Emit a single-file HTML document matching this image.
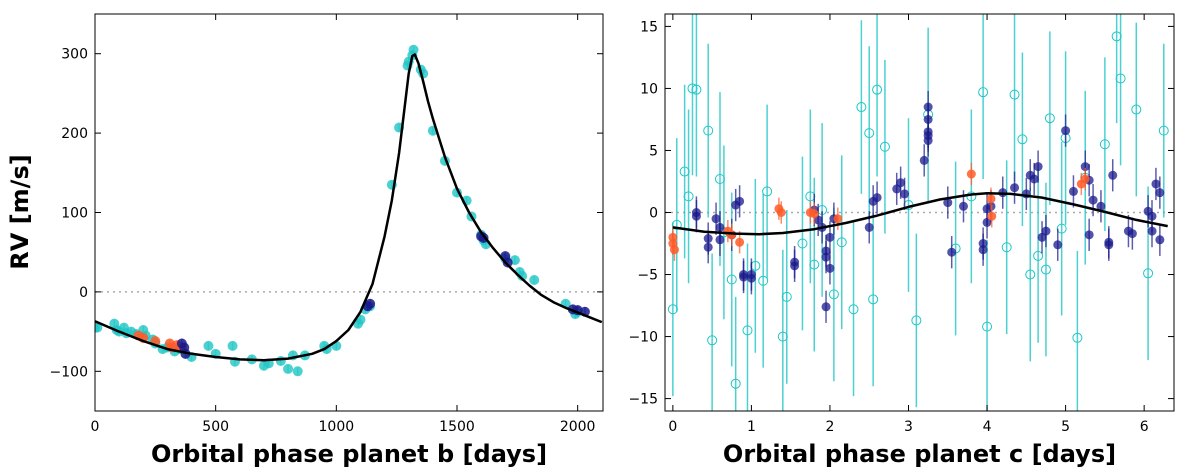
<!DOCTYPE html>
<html><head><meta charset="utf-8"><style>
html,body{margin:0;padding:0;background:#fff;}
svg{display:block;font-family:"DejaVu Sans","Liberation Sans",sans-serif;}
</style></head><body>
<svg id="chart" width="1182" height="474" viewBox="0 0 1182 474" xmlns="http://www.w3.org/2000/svg"></svg>
<script>
// ---- Left panel (planet b) data ----
const bCyanX=[0,10,80,90,100,120,130,150,170,200,210,240,250,280,300,330,350,400,470,500,570,580,650,700,720,770,800,820,840,870,950,960,1000,1090,1100,1120,1140,1230,1260,1295,1300,1315,1320,1350,1360,1400,1450,1500,1540,1560,1600,1610,1620,1700,1740,1760,1770,1820,1950,1990,2000];
const bCyanY=[-45,-45,-40,-48,-50,-45,-52,-50,-53,-48,-55,-60,-65,-72,-70,-75,-72,-82,-68,-78,-68,-88,-85,-93,-90,-87,-97,-80,-100,-80,-68,-72,-68,-40,-35,-22,-18,135,207,285,290,298,305,280,275,203,165,125,115,95,72,65,60,42,40,25,20,15,-15,-28,-25];
const bOrX=[180,200,250,310,320,340,360];
const bOrY=[-55,-58,-62,-65,-70,-67,-70];
const bNavX=[360,370,375,1130,1140,1600,1610,1700,1710,1980,2000,2030];
const bNavY=[-65,-70,-78,-18,-15,70,68,45,37,-22,-23,-25];
const bModelX=[0,100,200,300,400,500,600,700,800,900,950,1000,1050,1100,1150,1200,1230,1260,1280,1300,1315,1325,1340,1360,1380,1400,1450,1500,1550,1600,1650,1700,1750,1800,1850,1900,1950,2000,2050,2100];
const bModelY=[-37,-50,-62,-72,-78,-82,-85,-86,-84,-78,-72,-62,-48,-25,10,70,115,175,225,275,297,299,288,265,240,218,170,130,100,75,55,37,22,8,-4,-13,-20,-26,-32,-38];
const bXTicks=[0,500,1000,1500,2000];
const bYTicks=[-100,0,100,200,300];
// ---- Right panel (planet c) data ----
const cNavX=[0.3,0.3,0.45,0.45,0.55,0.6,0.6,0.75,0.8,0.85,0.9,0.9,1.0,1.0,1.55,1.55,1.8,1.85,1.9,1.95,1.95,1.95,2.0,2.0,2.05,2.5,2.55,2.6,2.85,2.9,2.95,3.2,3.25,3.25,3.25,3.25,3.25,3.5,3.55,3.7,3.95,3.95,4.0,4.0,4.05,4.2,4.35,4.5,4.55,4.6,4.65,4.7,4.75,4.9,5.0,5.1,5.25,5.3,5.3,5.35,5.45,5.55,5.55,5.6,5.8,5.85,6.05,6.1,6.1,6.15,6.2,6.2];
const cNavY=[-0.3,0,-2.1,-2.8,-0.5,-2.2,-1.2,-1.8,0.6,0.9,-5.0,-5.2,-5.3,-5.0,-4.0,-4.3,0.2,-0.6,-1.2,-3.1,-3.6,-7.6,-4.5,-2.0,-0.5,-1.2,0.9,1.2,1.9,2.4,1.5,4.2,6.5,7.5,8.5,6.2,5.8,0.8,-3.2,0.5,-2.5,-3.0,0.3,-0.8,0.5,1.6,2.0,1.5,3.0,2.7,3.7,-2.0,-1.5,-2.6,6.6,1.7,3.7,2.6,-1.8,1.0,0.5,-2.4,-2.6,3.0,-1.5,-1.7,0.1,-0.3,-1.5,2.3,1.6,-2.2];
const cCyX=[0,0.05,0.15,0.2,0.25,0.3,0.45,0.5,0.6,0.65,0.75,0.8,0.95,1.05,1.15,1.2,1.4,1.45,1.65,1.75,1.8,1.9,2.05,2.15,2.3,2.4,2.5,2.55,2.6,2.7,3.0,3.1,3.25,3.6,3.8,3.95,4.0,4.25,4.35,4.45,4.55,4.65,4.75,4.8,4.95,5.0,5.15,5.25,5.5,5.65,5.7,5.9,6.05,6.25];
const cCyY=[-7.8,-1,3.3,1.3,10,9.9,6.6,-10.3,2.7,-1.6,-5.4,-13.8,-9.5,-4.3,-5.5,1.7,-10,-6.8,-2.5,1.3,-4.2,0.2,-6.6,-2.4,-7.8,8.5,6.4,-7.0,9.9,5.3,0.6,-8.7,7.9,-2.9,1.3,9.7,-9.2,-2.8,9.5,5.9,-5.0,-3.5,-4.6,7.6,-1.3,6.0,-10.1,2.8,5.5,14.2,10.8,8.3,-4.9,6.6];
const cOrX=[0,0,0.02,0.7,0.75,0.85,1.35,1.38,1.75,1.8,2.1,3.8,4.05,4.06,5.2,5.25];
const cOrY=[-2.0,-2.5,-3.0,-1.5,-1.8,-2.4,0.3,0.0,0.0,-0.1,-0.5,3.1,1.1,-0.3,2.3,2.7];
const cModelX=[0,0.4,0.8,1.1,1.4,1.8,2.2,2.6,3.0,3.4,3.8,4.0,4.3,4.7,5.1,5.5,5.9,6.3];
const cModelY=[-1.2,-1.55,-1.7,-1.75,-1.65,-1.35,-0.85,-0.25,0.45,1.05,1.45,1.55,1.5,1.2,0.65,0.05,-0.6,-1.1];
const cXTicks=[0,1,2,3,4,5,6];
const cYTicks=[-15,-10,-5,0,5,10,15];

const NS="http://www.w3.org/2000/svg";
const svg=document.getElementById('chart');
function mk(tag,attrs,parent){const e=document.createElementNS(NS,tag);for(const k in attrs)e.setAttribute(k,attrs[k]);(parent||svg).appendChild(e);return e;}

function panel(p){
  const g=mk('g',{});
  
  
  const sx=v=>p.x0+(v-p.xmin)/(p.xmax-p.xmin)*(p.x1-p.x0);
  const sy=v=>p.y1-(v-p.ymin)/(p.ymax-p.ymin)*(p.y1-p.y0);
  const clip=mk('clipPath',{id:'clip'+p.name},g);
  mk('rect',{x:p.x0,y:p.y0,width:p.x1-p.x0,height:p.y1-p.y0},clip);
  const d=mk('g',{'clip-path':'url(#clip'+p.name+')'},g);
  const z=mk('line',{x1:p.x0,x2:p.x1,y1:sy(0),y2:sy(0),stroke:'#aaa','stroke-width':1.5,'stroke-dasharray':'2,4'},d);
  
  
  p.series.forEach(s=>{
    const sg=mk('g',{},d);
    
    
    s.xs.forEach((x,i)=>{
      const cx=sx(x),cy=sy(s.ys[i]);
      const e=s.err;
      mk('line',{x1:cx,x2:cx,y1:sy(s.ys[i]+e),y2:sy(s.ys[i]-e),stroke:s.ecol,'stroke-width':1.5,opacity:s.eop},sg);
      const c=mk('circle',{cx:cx,cy:cy,r:s.r,fill:s.fill,stroke:s.stroke,'stroke-width':1,'fill-opacity':s.fop},sg);
      
      
    });
  });
  const path=p.mx.map((x,i)=>(i?'L':'M')+sx(x).toFixed(1)+','+sy(p.my[i]).toFixed(1)).join(' ');
  const m=mk('path',{d:path,fill:'none',stroke:'#000','stroke-width':2.5,'stroke-linejoin':'round'},d);
  
  
  const fr=mk('rect',{x:p.x0,y:p.y0,width:p.x1-p.x0,height:p.y1-p.y0,fill:'none',stroke:'#000','stroke-width':1},g);
  
  
  p.xt.forEach(t=>{const x=sx(t);
    mk('line',{x1:x,x2:x,y1:p.y1,y2:p.y1-6,stroke:'#000'},g);
    mk('line',{x1:x,x2:x,y1:p.y0,y2:p.y0+6,stroke:'#000'},g);
    const tx=mk('text',{x:x,y:p.y1+20,'text-anchor':'middle','font-size':14},g);tx.textContent=t;
    
    });
  p.yt.forEach(t=>{const y=sy(t);
    mk('line',{x1:p.x0,x2:p.x0+6,y1:y,y2:y,stroke:'#000'},g);
    mk('line',{x1:p.x1,x2:p.x1-6,y1:y,y2:y,stroke:'#000'},g);
    const tx=mk('text',{x:p.x0-7,y:y+5,'text-anchor':'end','font-size':14},g);tx.textContent=(t<0?'\u2212'+(-t):t);
    
    });
  const xl=mk('text',{x:(p.x0+p.x1)/2,y:462,'text-anchor':'middle','font-size':24,'font-weight':'bold'},g);
  xl.textContent=p.xlabel;
  
  
}
const cyanC='#1fc6c6',navC='#1a1a8c',orC='#ff5a28';
panel({name:'panel-planet-b',x0:95,x1:603,y0:14,y1:411,xmin:0,xmax:2105,ymin:-150,ymax:350,
  xt:bXTicks,yt:bYTicks,mx:bModelX,my:bModelY,xlabel:'Orbital phase planet b [days]',
  series:[
   {name:'cyan-points',xs:bCyanX,ys:bCyanY,err:5,r:5,fill:cyanC,stroke:'none',fop:0.8,ecol:cyanC,eop:0.6},
   {name:'orange-points',xs:bOrX,ys:bOrY,err:5,r:5,fill:orC,stroke:'none',fop:0.85,ecol:orC,eop:0.6},
   {name:'navy-points',xs:bNavX,ys:bNavY,err:6,r:5,fill:navC,stroke:'none',fop:0.85,ecol:navC,eop:0.6}]});
panel({name:'panel-planet-c',x0:665,x1:1174,y0:14,y1:411,xmin:-0.1,xmax:6.38,ymin:-16,ymax:16,
  xt:cXTicks,yt:cYTicks,mx:cModelX,my:cModelY,xlabel:'Orbital phase planet c [days]',
  series:[
   {name:'cyan-open-points',xs:cCyX,ys:cCyY,err:7,r:4.5,fill:'none',stroke:cyanC,fop:0,ecol:cyanC,eop:0.8},
   {name:'navy-points',xs:cNavX,ys:cNavY,err:1.3,r:4.5,fill:navC,stroke:'none',fop:0.75,ecol:navC,eop:0.7},
   {name:'orange-points',xs:cOrX,ys:cOrY,err:0.9,r:4.5,fill:orC,stroke:'none',fop:0.85,ecol:orC,eop:0.7}]});
const yl=mk('text',{x:0,y:0,transform:'translate(28,212) rotate(-90)','text-anchor':'middle','font-size':24,'font-weight':'bold'});
yl.textContent='RV [m/s]';


</script>
</body></html>
